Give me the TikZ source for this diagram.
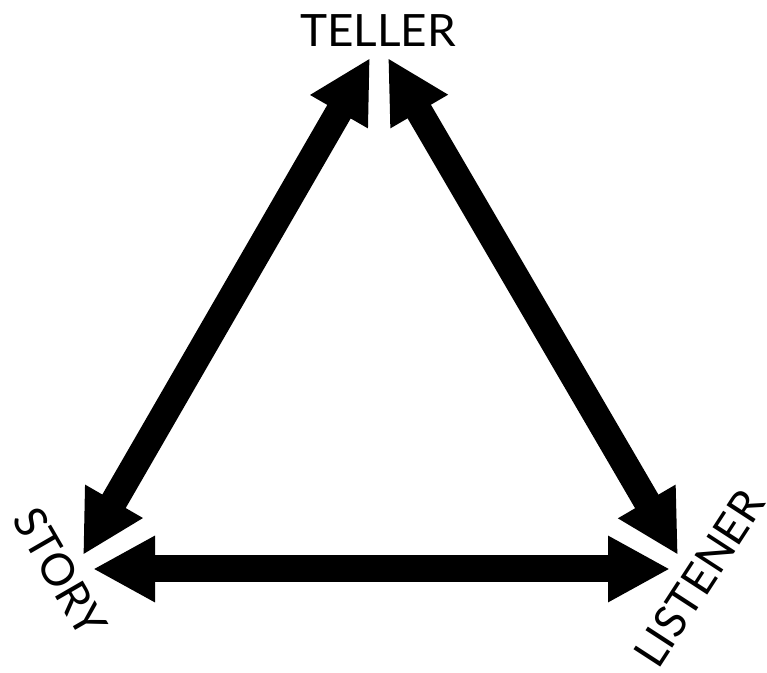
\documentclass[tikz,border=0pt]{standalone}
\usepackage{fontspec}
\setmainfont{Lato}
\usetikzlibrary{arrows.meta}
\tikzset{
  bigarrow/.style={line width=0.81cm, {Triangle[length=1.86cm, width=1.86cm]}-{Triangle[length=1.86cm, width=1.86cm]}},
  label/.style={inner sep=0pt, font=\fontsize{38}{40}\selectfont}
}
\begin{document}
\begin{tikzpicture}
\useasboundingbox (0,0) rectangle (23.01,20.19);
% arrow tips
\coordinate (tellerL) at (11.10,18.45);
\coordinate (tellerR) at (11.64,18.45);
\coordinate (storyU) at (2.49,3.54);
\coordinate (storyR) at (2.79,3.12);
\coordinate (listenerU) at (20.34,3.54);
\coordinate (listenerL) at (20.10,3.12);
% labels
\node[label, xscale=1.03] (teller) at (11.34,19.26) {TELLER};
\node[label, rotate=-60] (story) at (1.80,3.03) {STORY};
\node[label, rotate=57] (listener) at (20.98,2.84) {LISTENER};
% arrows
\draw[bigarrow] (storyU) -- (tellerL);
\draw[bigarrow] (tellerR) -- (listenerU);
\draw[bigarrow] (storyR) -- (listenerL);
\end{tikzpicture}
\end{document}
